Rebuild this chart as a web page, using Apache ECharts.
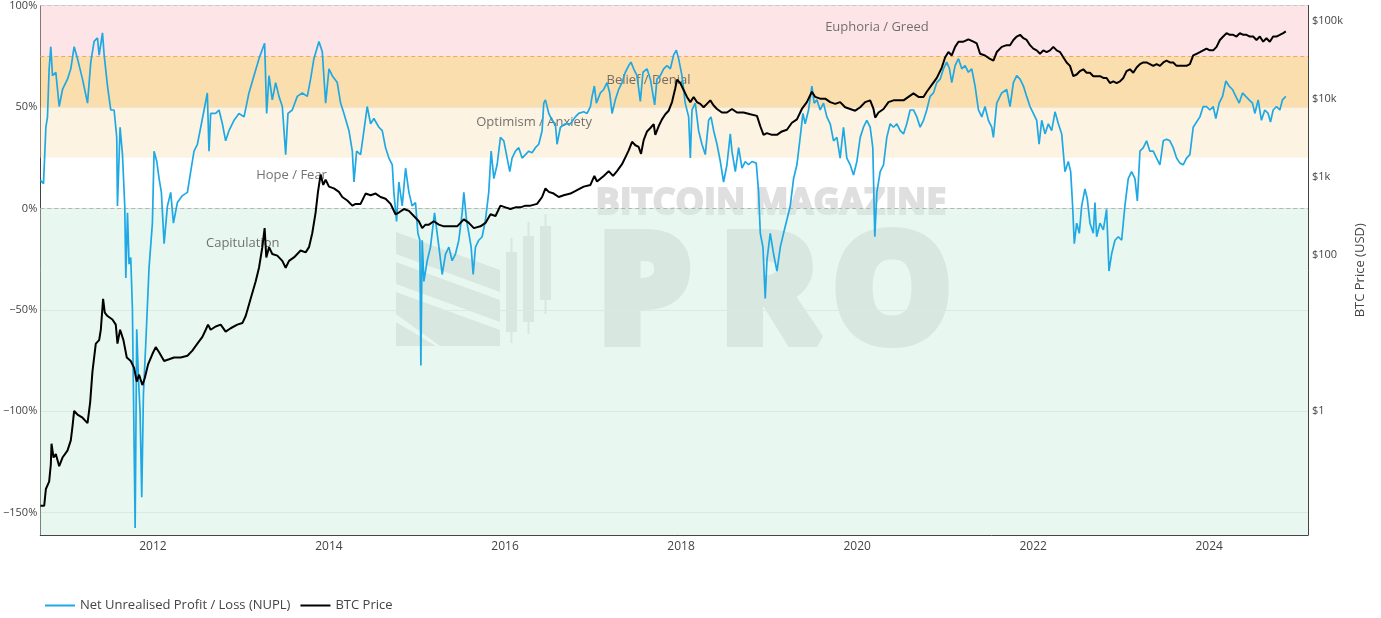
<!DOCTYPE html>
<html>
<head>
<meta charset="utf-8">
<script src="https://cdn.jsdelivr.net/npm/echarts/dist/echarts.min.js"></script>
<style>
  html, body { margin: 0; padding: 0; background: #fff; }
  #chart { width: 1381px; height: 618px; }
</style>
</head>
<body>
<div id="chart"></div>
<script>
// ---------- DATA (x = decimal year) ----------
const nuplPoints = [
  [2010.722,14],[2010.757,12.2],[2010.784,40],[2010.802,45],[2010.821,68.8],[2010.840,79.7],[2010.859,65.4],[2010.897,67],
  [2010.935,50.2],[2010.973,58.6],[2011.029,63.7],[2011.067,68.8],[2011.105,79.7],[2011.143,73.8],[2011.200,63.7],[2011.257,51.9],
  [2011.294,72.1],[2011.332,82.3],[2011.370,84],[2011.389,75.5],[2011.427,86.5],[2011.446,75.5],[2011.484,60.3],[2011.521,48.5],
  [2011.559,48.5],[2011.589,35],[2011.597,1.2],[2011.627,40],[2011.654,26.5],[2011.680,1.2],[2011.692,-34.3],[2011.711,-2.2],
  [2011.729,-27.5],[2011.748,-24.2],[2011.767,-49.5],[2011.798,-157.6],[2011.816,-59.6],[2011.835,-83.3],[2011.854,-100.2],[2011.873,-142.4],
  [2011.892,-91.7],[2011.919,-66.4],[2011.956,-29.2],[2011.994,-7.3],[2012.013,28.2],[2012.044,23.1],[2012.070,14.7],[2012.096,7.9],
  [2012.127,-17.4],[2012.165,1.2],[2012.202,7.9],[2012.233,-7.3],[2012.278,2.9],[2012.335,6.3],[2012.392,7.9],[2012.429,18.1],
  [2012.467,28.2],[2012.505,31.6],[2012.543,40],[2012.581,48.5],[2012.618,56.9],[2012.637,28.2],[2012.656,46.8],[2012.713,46.8],
  [2012.751,48.5],[2012.789,41.7],[2012.826,33.3],[2012.864,38.3],[2012.921,43.4],[2012.978,46.8],[2013.035,45.1],[2013.091,56.9],
  [2013.148,65.4],[2013.205,73.8],[2013.269,81.4],[2013.292,46.8],[2013.319,65.4],[2013.356,53.5],[2013.394,62],[2013.432,55.2],
  [2013.470,50.2],[2013.508,26.5],[2013.534,46.8],[2013.583,48.5],[2013.640,55.2],[2013.697,56.9],[2013.754,55.2],[2013.791,63.7],
  [2013.829,73.8],[2013.886,82.3],[2013.924,77.2],[2013.962,51.9],[2014.000,68.8],[2014.037,65.4],[2014.094,62],[2014.132,51.9],
  [2014.170,46.8],[2014.227,38.3],[2014.265,28.2],[2014.284,13],[2014.314,28.2],[2014.359,26.5],[2014.397,38.3],[2014.434,50.2],
  [2014.473,41.7],[2014.510,44.3],[2014.567,40],[2014.605,38.3],[2014.643,29.9],[2014.681,24.8],[2014.719,21.5],[2014.737,7.9],
  [2014.768,-6.4],[2014.794,13],[2014.832,1.2],[2014.870,19.8],[2014.908,7.9],[2014.945,1.2],[2014.983,2.9],[2015.010,-12.3],
  [2015.032,-15.7],[2015.044,-77.4],[2015.059,-15.7],[2015.078,-36],[2015.116,-25.8],[2015.153,-19.1],[2015.199,-2.2],[2015.229,-12.3],
  [2015.259,-22.5],[2015.286,-32.6],[2015.324,-22.5],[2015.362,-19.1],[2015.399,-25.8],[2015.437,-22.5],[2015.475,-15.7],[2015.513,-2.2],
  [2015.532,7.9],[2015.562,-5.6],[2015.589,-12.3],[2015.615,-19.1],[2015.638,-32.6],[2015.664,-19.1],[2015.702,-15.7],[2015.740,-14],
  [2015.778,-5.6],[2015.815,7.9],[2015.842,28.2],[2015.873,14.7],[2015.910,21.5],[2015.948,35],[2015.986,33.3],[2016.024,24.8],
  [2016.054,18.1],[2016.080,24.8],[2016.118,28.2],[2016.156,29.9],[2016.194,24.8],[2016.232,26.5],[2016.270,28.2],[2016.307,27.4],
  [2016.345,29.9],[2016.383,31.6],[2016.421,38.3],[2016.440,51.9],[2016.459,53.5],[2016.497,46.8],[2016.534,43.4],[2016.572,41.7],
  [2016.591,31.6],[2016.629,40],[2016.686,41.7],[2016.743,41.7],[2016.799,45.1],[2016.837,46.8],[2016.894,47.6],[2016.932,46.8],
  [2016.970,50.2],[2016.989,55.2],[2017.015,60.3],[2017.038,51.9],[2017.083,56.9],[2017.121,58.6],[2017.159,62],[2017.189,56.9],
  [2017.216,46.8],[2017.253,53.5],[2017.291,58.6],[2017.329,62],[2017.367,67.1],[2017.405,70.4],[2017.431,72.1],[2017.461,68.8],
  [2017.499,65.4],[2017.537,52.7],[2017.567,67.1],[2017.613,68.8],[2017.651,63.7],[2017.700,51],[2017.726,63.7],[2017.764,65.4],
  [2017.802,68.8],[2017.840,70.4],[2017.878,68.8],[2017.915,75.5],[2017.946,78],[2017.972,73.8],[2018.010,65.4],[2018.047,51.9],
  [2018.086,45.1],[2018.105,24.8],[2018.124,48.5],[2018.161,51.9],[2018.199,38.3],[2018.237,31.6],[2018.275,26.5],[2018.313,43.4],
  [2018.340,45.1],[2018.370,38.3],[2018.408,31.6],[2018.446,23.1],[2018.483,13],[2018.521,21.5],[2018.559,36.7],[2018.578,28.2],
  [2018.616,18.1],[2018.654,29.9],[2018.692,19.8],[2018.729,23.1],[2018.767,21.5],[2018.805,23.1],[2018.854,22.3],[2018.881,7.9],
  [2018.900,-12.3],[2018.930,-19.1],[2018.956,-44.4],[2018.975,-25.8],[2019.013,-12.3],[2019.051,-22.5],[2019.089,-30.9],[2019.127,-19.1],
  [2019.164,-12.3],[2019.202,-5.6],[2019.240,1.2],[2019.278,14.7],[2019.316,21.5],[2019.353,35],[2019.384,46.8],[2019.410,41.7],
  [2019.448,48.5],[2019.486,60.3],[2019.512,51.9],[2019.543,53.5],[2019.580,48.5],[2019.618,51.9],[2019.656,45.1],[2019.694,41.7],
  [2019.732,33.3],[2019.770,35],[2019.807,24.8],[2019.845,40],[2019.883,24.8],[2019.921,21.5],[2019.959,16.4],[2019.997,23.1],
  [2020.035,35],[2020.072,40],[2020.110,43.4],[2020.148,40],[2020.178,29.9],[2020.201,-14],[2020.224,7.9],[2020.262,18.1],
  [2020.300,21.5],[2020.337,35],[2020.375,41.7],[2020.413,40],[2020.451,41.7],[2020.489,38.3],[2020.527,36.7],[2020.564,41.7],
  [2020.602,48.5],[2020.640,48.5],[2020.678,45.1],[2020.716,40],[2020.754,43.4],[2020.791,48.5],[2020.829,55.2],[2020.867,56.9],
  [2020.905,62],[2020.943,63.7],[2020.981,68.8],[2021.018,72.1],[2021.049,68.8],[2021.075,62],[2021.113,70.4],[2021.151,73.8],
  [2021.189,68.8],[2021.226,70.4],[2021.264,67.1],[2021.302,68.8],[2021.340,60.3],[2021.378,48.5],[2021.416,45.1],[2021.453,50.2],
  [2021.491,43.4],[2021.529,40],[2021.548,35],[2021.586,51.9],[2021.643,56.9],[2021.699,58.6],[2021.737,50.2],[2021.775,62],
  [2021.813,65.4],[2021.851,63.7],[2021.889,60.3],[2021.926,55.2],[2021.964,50.2],[2022.002,46.8],[2022.040,43.4],[2022.067,31.6],
  [2022.097,43.4],[2022.135,36.7],[2022.172,41.7],[2022.210,38.3],[2022.248,47.6],[2022.286,41.7],[2022.324,36.7],[2022.361,18.1],
  [2022.399,23.1],[2022.426,18.1],[2022.448,1.2],[2022.467,-17.4],[2022.494,-7.3],[2022.524,-12.3],[2022.551,1.2],[2022.588,9.6],
  [2022.615,4.6],[2022.645,-7.3],[2022.683,-12.3],[2022.702,2.9],[2022.721,-14],[2022.759,-7.3],[2022.797,-10.6],[2022.834,-0.5],
  [2022.861,-30.9],[2022.891,-22.5],[2022.929,-15.7],[2022.967,-14],[2023.005,-15.7],[2023.042,1.2],[2023.080,14.7],[2023.118,18.1],
  [2023.156,14.7],[2023.183,3.7],[2023.213,28.2],[2023.251,29.9],[2023.288,33.3],[2023.326,28.2],[2023.364,28.2],[2023.402,24.8],
  [2023.440,21.5],[2023.478,33.3],[2023.515,34.1],[2023.553,33.3],[2023.591,29.9],[2023.629,24.8],[2023.667,22.3],[2023.704,21.5],
  [2023.742,24.8],[2023.780,26.5],[2023.818,40],[2023.856,42.6],[2023.894,45.1],[2023.931,50.2],[2023.969,50.2],[2024.007,48.5],
  [2024.045,50.2],[2024.075,44.3],[2024.113,51.9],[2024.151,55.2],[2024.189,62.8],[2024.226,60.3],[2024.264,58.6],[2024.302,55.2],
  [2024.340,51.9],[2024.378,56.9],[2024.415,55.2],[2024.453,53.5],[2024.491,51.9],[2024.518,46.8],[2024.556,53.5],[2024.593,43.4],
  [2024.631,48.5],[2024.669,46.8],[2024.696,42.6],[2024.726,48.5],[2024.764,50.2],[2024.802,48.5],[2024.832,53.5],[2024.870,55.2]
];

const btcPoints = [
  [2010.722,0.061],[2010.765,0.061],[2010.784,0.10],[2010.821,0.124],[2010.840,0.206],[2010.848,0.38],[2010.871,0.253],[2010.897,0.28],
  [2010.935,0.196],[2010.973,0.253],[2011.029,0.31],[2011.067,0.42],[2011.086,0.63],[2011.105,1.0],[2011.143,0.90],[2011.200,0.82],
  [2011.257,0.70],[2011.287,1.29],[2011.313,3.2],[2011.351,7.3],[2011.389,8.1],[2011.408,11],[2011.434,27.4],[2011.453,18.2],
  [2011.484,16.5],[2011.540,14.9],[2011.578,12.8],[2011.597,7.3],[2011.627,11],[2011.665,8.1],[2011.703,4.85],[2011.748,4.38],
  [2011.786,3.57],[2011.816,2.38],[2011.843,2.92],[2011.880,2.15],[2011.907,2.63],[2011.945,3.96],[2011.994,5.37],[2012.032,6.59],
  [2012.070,5.65],[2012.127,4.38],[2012.184,4.61],[2012.240,4.85],[2012.316,4.85],[2012.392,5.1],[2012.448,5.95],[2012.505,7.3],
  [2012.562,8.9],[2012.600,11],[2012.626,12.8],[2012.656,11],[2012.713,12.1],[2012.770,12.8],[2012.826,10.4],[2012.883,11.5],
  [2012.959,12.8],[2013.016,13.4],[2013.054,16.5],[2013.110,27.4],[2013.167,45.6],[2013.205,68.6],[2013.243,126],[2013.269,221],
  [2013.288,93],[2013.319,126],[2013.356,103],[2013.413,98],[2013.470,84],[2013.508,68.6],[2013.546,84],[2013.602,93],
  [2013.678,114],[2013.735,108],[2013.773,126],[2013.810,190],[2013.848,350],[2013.875,645],[2013.905,1074],[2013.935,791],
  [2013.962,922],[2014.000,752],[2014.056,714],[2014.113,645],[2014.151,554],[2014.208,500],[2014.265,429],[2014.303,452],
  [2014.359,452],[2014.416,613],[2014.473,583],[2014.530,613],[2014.586,554],[2014.643,526],[2014.700,452],[2014.756,333],
  [2014.794,350],[2014.851,388],[2014.908,368],[2014.964,316],[2015.021,271],[2015.059,221],[2015.097,245],[2015.135,245],
  [2015.191,271],[2015.248,245],[2015.305,233],[2015.380,233],[2015.456,233],[2015.532,286],[2015.589,258],[2015.646,221],
  [2015.721,233],[2015.778,258],[2015.835,333],[2015.892,316],[2015.948,429],[2016.005,408],[2016.062,388],[2016.118,408],
  [2016.175,408],[2016.232,429],[2016.289,429],[2016.364,452],[2016.421,554],[2016.459,714],[2016.497,645],[2016.553,613],
  [2016.610,554],[2016.667,583],[2016.743,613],[2016.818,679],[2016.894,752],[2016.970,791],[2017.015,1031],[2017.045,876],
  [2017.121,1031],[2017.178,1189],[2017.227,1031],[2017.272,1189],[2017.329,1459],[2017.367,1787],[2017.405,2193],[2017.443,2827],
  [2017.481,2552],[2017.518,2427],[2017.545,1978],[2017.575,2974],[2017.613,3837],[2017.651,4248],[2017.689,4754],[2017.707,3467],
  [2017.745,4467],[2017.783,5483],[2017.821,6383],[2017.859,7079],[2017.897,9126],[2017.934,13710],[2017.953,17700],[2017.991,16000],
  [2018.029,13030],[2018.067,10630],[2018.105,9126],[2018.143,10630],[2018.180,9126],[2018.218,8670],[2018.256,7830],[2018.294,8670],
  [2018.332,9600],[2018.370,8240],[2018.408,7450],[2018.464,6720],[2018.521,6720],[2018.578,7450],[2018.635,6720],[2018.710,6720],
  [2018.786,6383],[2018.862,6070],[2018.900,4470],[2018.937,3467],[2018.975,3650],[2019.032,3467],[2019.089,3467],[2019.145,3837],
  [2019.202,4037],[2019.259,4955],[2019.316,5483],[2019.372,7450],[2019.429,9126],[2019.486,12380],[2019.524,10630],[2019.580,10100],
  [2019.637,10100],[2019.694,9126],[2019.751,8670],[2019.807,9126],[2019.864,7830],[2019.921,7450],[2019.978,7080],[2020.035,7830],
  [2020.091,9126],[2020.148,9600],[2020.186,7450],[2020.205,5770],[2020.243,6720],[2020.300,7450],[2020.356,9126],[2020.413,9600],
  [2020.470,9600],[2020.527,9600],[2020.583,10630],[2020.640,11780],[2020.697,10630],[2020.754,10630],[2020.791,12380],[2020.848,15180],
  [2020.905,18620],[2020.962,25290],[2021.000,34300],[2021.037,39980],[2021.075,36130],[2021.113,46580],[2021.151,54300],[2021.208,54300],
  [2021.264,58240],[2021.321,54300],[2021.359,51540],[2021.397,38000],[2021.453,36130],[2021.510,32600],[2021.548,30960],[2021.586,39980],
  [2021.643,46580],[2021.699,48980],[2021.737,48980],[2021.775,57100],[2021.813,63200],[2021.851,66500],[2021.889,60100],[2021.926,57100],
  [2021.964,48980],[2022.002,44260],[2022.040,42060],[2022.078,38000],[2022.115,42060],[2022.153,39980],[2022.191,42060],[2022.229,46580],
  [2022.267,42060],[2022.305,39980],[2022.342,34300],[2022.380,29430],[2022.418,26600],[2022.456,19590],[2022.494,20610],[2022.532,22810],
  [2022.569,24040],[2022.607,21680],[2022.645,21680],[2022.683,19590],[2022.721,19590],[2022.759,19590],[2022.797,18620],[2022.834,18620],
  [2022.872,16000],[2022.910,16830],[2022.948,16000],[2022.986,16830],[2023.024,18620],[2023.061,22810],[2023.099,24040],[2023.137,21680],
  [2023.175,25290],[2023.213,27990],[2023.251,29430],[2023.288,29430],[2023.326,27990],[2023.364,26600],[2023.402,27990],[2023.440,26600],
  [2023.478,29430],[2023.515,30960],[2023.553,29430],[2023.591,29430],[2023.629,26600],[2023.667,26600],[2023.704,26600],[2023.742,26600],
  [2023.780,27990],[2023.818,36130],[2023.856,38000],[2023.894,39980],[2023.931,42060],[2023.969,44260],[2024.007,42060],[2024.045,42060],
  [2024.083,46580],[2024.121,57100],[2024.159,63200],[2024.197,70000],[2024.234,66500],[2024.272,66500],[2024.310,63200],[2024.348,70000],
  [2024.386,66500],[2024.424,66500],[2024.461,63200],[2024.499,63200],[2024.537,57100],[2024.575,63200],[2024.613,54300],[2024.650,60100],
  [2024.688,54300],[2024.726,63200],[2024.764,63200],[2024.802,66500],[2024.840,70000],[2024.870,73700]
];

const zoneNames  = ['Euphoria / Greed', 'Belief / Denial', 'Optimism / Anxiety', 'Hope / Fear', 'Capitulation'];
const zoneYears  = [2020.225, 2017.63, 2016.33, 2013.575, 2013.02];
const zoneLevels = [89.4, 63.3, 42.6, 16.5, -17.1];

const xTickYears      = [2012, 2014, 2016, 2018, 2020, 2022, 2024];
const pctTickValues   = [-150, -100, -50, 0, 50, 100];
const priceTickValues = [1, 100, 1000, 10000, 100000];
const priceTickLabels = ['$1', '$100', '$1k', '$10k', '$100k'];
const legendNames     = ['Net Unrealised Profit / Loss (NUPL)', 'BTC Price'];

const zoneData = zoneYears.map((y, i) => [y, zoneLevels[i]]);

const FONT = '"Open Sans", "Noto Sans", sans-serif';
const WM = '#dfdfdf';   // watermark, drawn beneath the translucent zone bands

function wmText(text, x, y, size, stroke) {
  return { type: 'text', z: 0, zlevel: 0, silent: true,
    style: { text: text, x: x, y: y, align: 'center', verticalAlign: 'middle',
             font: 'bold ' + size + 'px "Open Sans"', fill: WM, stroke: WM, lineWidth: stroke, lineJoin: 'miter' } };
}
function wmPoly(points) {
  return { type: 'polygon', z: 0, zlevel: 0, silent: true, shape: { points: points }, style: { fill: WM } };
}
function wmRect(x, y, w, h) {
  return { type: 'rect', z: 0, zlevel: 0, silent: true, shape: { x: x, y: y, width: w, height: h }, style: { fill: WM } };
}

const chart = echarts.init(document.getElementById('chart'), null, { renderer: 'canvas' });

const option = {
  animation: false,
  backgroundColor: '#ffffff',
  textStyle: { fontFamily: FONT },
  grid: { left: 38, right: 73, top: 5.5, bottom: 83, containLabel: false },
  legend: {
    data: legendNames,
    left: 40, top: 594,
    icon: 'rect', itemWidth: 30, itemHeight: 2, itemGap: 10,
    textStyle: { color: '#444', fontSize: 13, fontFamily: FONT }
  },
  xAxis: {
    type: 'value',
    min: 2010.72, max: 2025.122,
    axisLine: { show: true, onZero: false, lineStyle: { color: '#444', width: 1 } },
    axisTick: { show: false },
    splitLine: { show: false },
    axisLabel: {
      customValues: xTickYears,
      formatter: v => String(Math.round(v)),
      color: '#444', fontSize: 12, margin: 6, fontFamily: FONT
    }
  },
  yAxis: [
    {
      type: 'value', min: -161, max: 100, position: 'left',
      axisLine: { show: true, onZero: false, lineStyle: { color: '#444', width: 1 } },
      axisTick: { show: false, customValues: pctTickValues },
      axisLabel: {
        customValues: pctTickValues,
        formatter: v => (v < 0 ? '\u2212' + (-v) : String(v)) + '%',
        color: '#444', fontSize: 11, margin: 3, fontFamily: FONT
      },
      splitLine: { show: true, lineStyle: { color: '#e2e2e2', width: 1 } }
    },
    {
      type: 'log', logBase: 10, min: 0.0257, max: 158000, position: 'right',
      axisLine: { show: true, onZero: false, lineStyle: { color: '#444', width: 1 } },
      axisTick: { show: false },
      splitLine: { show: false },
      axisLabel: {
        color: '#444', fontSize: 11, margin: 4, fontFamily: FONT,
        formatter: v => {
          const e = Math.log10(v), r = Math.round(e);
          if (Math.abs(e - r) > 1e-6) return '';
          const k = priceTickValues.indexOf(Math.pow(10, r));
          return k >= 0 ? priceTickLabels[k] : '';
        }
      },
      name: 'BTC Price (USD)', nameLocation: 'middle', nameRotate: 90, nameGap: 25,
      nameTextStyle: { color: '#444', fontSize: 13, fontFamily: FONT }
    }
  ],
  graphic: {
    elements: [
      wmText('BITCOIN MAGAZINE', 771, 204, 36, 2),
      wmText('P', 644, 298, 146, 14),
      wmText('R', 769, 298, 146, 14),
      wmText('O', 892, 298, 146, 14),
      wmPoly([[396,232],[500,270],[500,292],[396,254]]),
      wmPoly([[396,262],[500,300],[500,322],[396,284]]),
      wmPoly([[396,292],[500,330],[500,346],[440,346],[396,314]]),
      wmPoly([[396,322],[436,346],[396,346]]),
      wmRect(506, 252, 11, 80), wmRect(510.5, 238, 2, 105),
      wmRect(523, 236, 11, 86), wmRect(527.5, 222, 2, 112),
      wmRect(540, 226, 11, 74), wmRect(544.5, 214, 2, 100)
    ]
  },
  series: [
    {
      name: 'zones', type: 'scatter', yAxisIndex: 0, z: 1, silent: true,
      symbolSize: 0, data: zoneData,
      label: {
        show: true, position: 'inside', color: '#505050', fontSize: 13, fontFamily: FONT,
        formatter: p => zoneNames[p.dataIndex]
      },
      markArea: {
        silent: true,
        data: [
          [{ yAxis: 75, itemStyle: { color: 'rgba(249,201,207,0.5)' } }, { yAxis: 100 }],
          [{ yAxis: 50, itemStyle: { color: 'rgba(247,190,92,0.5)' } }, { yAxis: 75 }],
          [{ yAxis: 25, itemStyle: { color: 'rgba(251,231,197,0.5)' } }, { yAxis: 50 }],
          [{ yAxis: -161, itemStyle: { color: 'rgba(209,239,225,0.5)' } }, { yAxis: 0 }]
        ]
      },
      markLine: {
        silent: true, symbol: ['none', 'none'],
        label: { show: false },
        data: [
          { yAxis: 100, lineStyle: { color: '#c8c8c8', type: [4, 3], width: 1 } },
          { yAxis: 75,  lineStyle: { color: '#f3a65c', type: [4, 3], width: 1 } },
          { yAxis: 0,   lineStyle: { color: '#b4b4b4', type: [4, 3], width: 1 } }
        ]
      }
    },
    {
      name: legendNames[0], type: 'line', yAxisIndex: 0, z: 6,
      data: nuplPoints, showSymbol: false, symbol: 'none',
      lineStyle: { color: '#1ea9e4', width: 1.7 }, itemStyle: { color: '#1ea9e4' }
    },
    {
      name: legendNames[1], type: 'line', yAxisIndex: 1, z: 7,
      data: btcPoints, showSymbol: false, symbol: 'none',
      lineStyle: { color: '#000000', width: 2 }, itemStyle: { color: '#000000' }
    }
  ]
};
chart.setOption(option);
</script>
</body>
</html>
